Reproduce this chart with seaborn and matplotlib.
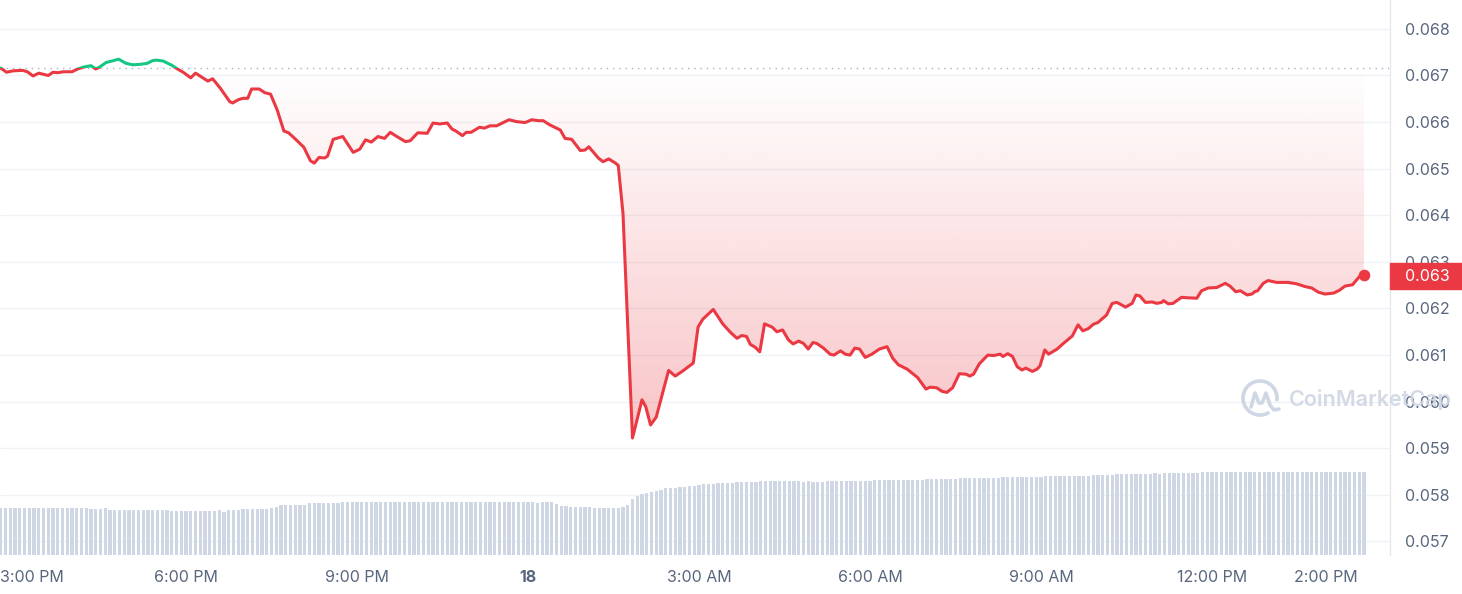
import numpy as np
import pandas as pd
import matplotlib
matplotlib.use('Agg')
import matplotlib.pyplot as plt
import matplotlib.dates as mdates
import matplotlib.colors as mcolors
import matplotlib.transforms as mtransforms
from matplotlib.patches import Rectangle, Arc
from matplotlib.path import Path
import seaborn as sns

start = pd.Timestamp('2023-08-17 14:45')

# price samples: minutes after start, USD
price_minutes = [
    0, 6, 13, 23, 28, 34, 40, 50, 55, 60,
    66, 75, 81, 87, 95, 100, 104, 111, 117, 124,
    132, 139, 147, 154, 160, 164, 171, 180, 186, 192,
    200, 205, 212, 218, 223, 231, 241, 244, 250, 255,
    260, 264, 272, 278, 284, 291, 298, 303, 312, 319,
    326, 330, 335, 341, 344, 350, 360,
    371, 378, 384, 390, 397, 404, 410, 417, 426, 431,
    439, 449, 455, 462, 470, 475, 479, 486, 490, 495,
    504, 509, 515, 522, 529, 535, 543, 552, 559, 566,
    571, 578, 589, 594, 601, 610, 615, 619, 629, 634,
    640, 647, 650, 655, 665, 675, 679, 684, 690, 703,
    710, 718, 729, 734, 739, 750, 760, 768, 775, 780,
    785, 789, 794, 799, 804, 812, 817, 823, 829, 834,
    840, 845, 850, 855, 859, 866, 873, 877, 884, 889,
    894, 899, 904, 910, 917, 925, 933, 939, 945, 954,
    965, 974, 978, 985, 991, 996, 1002, 1009, 1016, 1020,
    1024, 1030, 1039, 1045, 1052, 1055, 1060, 1065, 1070, 1075,
    1079, 1086, 1091, 1094, 1099, 1103, 1112, 1118, 1128, 1134,
    1139, 1145, 1150, 1155, 1164, 1170, 1175, 1184, 1191, 1195,
    1199, 1205, 1212, 1217, 1222, 1224, 1229, 1234, 1243, 1249,
    1259, 1264, 1271, 1280, 1289, 1294, 1300, 1305, 1312, 1317,
    1320, 1323, 1329, 1334, 1343, 1355, 1364, 1373, 1380, 1387,
    1394, 1403, 1409, 1415, 1423, 1430, 1435,
]
price_values = [
    0.06716, 0.06707, 0.06710, 0.06711, 0.06708, 0.06699, 0.06705, 0.06700, 0.06707, 0.06706,
    0.06708, 0.06708, 0.06714, 0.06718, 0.06721, 0.06714, 0.06718, 0.06728, 0.06731, 0.06735,
    0.06726, 0.06723, 0.06724, 0.06726, 0.06732, 0.06733, 0.06731, 0.06722, 0.06714, 0.06707,
    0.06695, 0.06705, 0.06696, 0.06688, 0.06693, 0.06673, 0.06644, 0.06641, 0.06648, 0.06651,
    0.06651, 0.06671, 0.06671, 0.06663, 0.06660, 0.06626, 0.06581, 0.06577, 0.06560, 0.06546,
    0.06517, 0.06512, 0.06524, 0.06523, 0.06527, 0.06563, 0.06569,
    0.06535, 0.06542, 0.06562, 0.06557, 0.06569, 0.06565, 0.06578, 0.06569, 0.06558, 0.06560,
    0.06577, 0.06576, 0.06598, 0.06596, 0.06598, 0.06585, 0.06581, 0.06571, 0.06578, 0.06578,
    0.06589, 0.06587, 0.06592, 0.06592, 0.06599, 0.06605, 0.06601, 0.06599, 0.06605, 0.06603,
    0.06603, 0.06594, 0.06583, 0.06565, 0.06563, 0.06539, 0.06540, 0.06547, 0.06523, 0.06515,
    0.06521, 0.06512, 0.06507, 0.06404, 0.05922, 0.06004, 0.05989, 0.05950, 0.05967, 0.06067,
    0.06055, 0.06066, 0.06083, 0.06160, 0.06177, 0.06198, 0.06167, 0.06149, 0.06136, 0.06142,
    0.06140, 0.06123, 0.06117, 0.06107, 0.06167, 0.06160, 0.06150, 0.06154, 0.06133, 0.06124,
    0.06130, 0.06125, 0.06113, 0.06127, 0.06125, 0.06115, 0.06102, 0.06100, 0.06109, 0.06102,
    0.06100, 0.06115, 0.06113, 0.06095, 0.06102, 0.06113, 0.06118, 0.06093, 0.06079, 0.06070,
    0.06052, 0.06027, 0.06031, 0.06030, 0.06022, 0.06020, 0.06030, 0.06060, 0.06059, 0.06055,
    0.06059, 0.06081, 0.06100, 0.06099, 0.06102, 0.06097, 0.06103, 0.06097, 0.06075, 0.06068,
    0.06072, 0.06065, 0.06070, 0.06077, 0.06111, 0.06102, 0.06113, 0.06124, 0.06141, 0.06165,
    0.06152, 0.06157, 0.06166, 0.06170, 0.06186, 0.06211, 0.06213, 0.06203, 0.06211, 0.06229,
    0.06227, 0.06213, 0.06214, 0.06211, 0.06213, 0.06217, 0.06210, 0.06211, 0.06224, 0.06223,
    0.06222, 0.06238, 0.06244, 0.06245, 0.06254, 0.06248, 0.06236, 0.06238, 0.06229, 0.06231,
    0.06236, 0.06238, 0.06254, 0.06260, 0.06256, 0.06256, 0.06253, 0.06247, 0.06244, 0.06235,
    0.06231, 0.06233, 0.06239, 0.06248, 0.06251, 0.06268, 0.06272,
]

# volume, one bar per 5 minutes (arbitrary units)
volume_values = (
    [47] * 19 + [46] * 3 + [46.5] + [45] * 13 + [44] * 10 + [45, 43] + [45] * 3 + [46] * 6
    + [47, 48] + [50] * 6 + [52] * 7 + [53] * 41 + [52] + [53] * 3 + [51] + [49] * 2 + [48] * 5
    + [47] * 6
    + [48, 50, 56, 59, 61, 62, 63, 64, 65, 67, 67, 67, 68, 68, 69, 69, 70, 71, 71, 71, 72, 72, 72, 72]
    + [73] * 5 + [74] * 9 + [73, 74] + [73] * 3 + [74] * 10 + [75] * 11 + [76] * 7 + [77] * 9
    + [78] * 9 + [79] * 10 + [80] * 5 + [81] * 8 + [82, 81] + [82] * 8 + [83] * 35
)

x_tick_times = ['2023-08-17 15:00', '2023-08-17 18:00', '2023-08-17 21:00', '2023-08-18 00:00',
                '2023-08-18 03:00', '2023-08-18 06:00', '2023-08-18 09:00', '2023-08-18 12:00',
                '2023-08-18 14:00']
x_tick_labels = ['3:00 PM', '6:00 PM', '9:00 PM', '18', '3:00 AM', '6:00 AM', '9:00 AM',
                 '12:00 PM', '2:00 PM']
y_ticks = [0.057, 0.058, 0.059, 0.060, 0.061, 0.062, 0.063, 0.064, 0.065, 0.066, 0.067, 0.068]

RED = '#ea3943'
GREEN = '#16c784'
TXT = '#58667e'
VOL = '#cfd6e4'
GRID = '#eff2f5'

sns.set_style('white')
plt.rcParams['font.family'] = ['Inter', 'DejaVu Sans']

df = pd.DataFrame({
    'time': mdates.date2num(start + pd.to_timedelta(price_minutes, unit='m')),
    'price': price_values,
})
vol = pd.DataFrame({
    'time': mdates.date2num(start + pd.to_timedelta(np.arange(len(volume_values)) * 5, unit='m')),
    'volume': volume_values,
})

y_lo, y_hi = 0.05671, 0.06862
x_lo = mdates.date2num(start - pd.Timedelta(minutes=0.8))
x_hi = mdates.date2num(start + pd.Timedelta(minutes=1462.4))
base = price_values[0]
last_t, last_p = df['time'].iloc[-1], df['price'].iloc[-1]

W, H = 1462, 594
fig = plt.figure(figsize=(W / 100, H / 100), dpi=100, facecolor='white')
ax = fig.add_axes([0, 39 / H, 1390 / W, 555 / H])
ax.set_facecolor('white')

# grid
for yv in y_ticks:
    ax.axhline(yv, color=GRID, lw=1, zorder=0.5)

# volume bars at the bottom (scaled into the price axis)
heights = vol['volume'] / vol['volume'].max() * 0.15 * (y_hi - y_lo)
ax.bar(vol['time'], heights, bottom=y_lo, width=3.5 / 1440, color=VOL, lw=0, zorder=1)

# gradient fill below the opening price
poly = ax.fill_between(df['time'], df['price'], base, where=df['price'] < base,
                       interpolate=True, color='none', lw=0)
clip = Path.make_compound_path(*poly.get_paths())
grad = np.zeros((256, 1, 4))
grad[..., :3] = mcolors.to_rgb(RED)
grad[..., 3] = np.linspace(0.3, 0.0, 256)[:, None]
im = ax.imshow(grad, extent=[df['time'].iloc[0], last_t, df['price'].min(), base],
               origin='lower', aspect='auto', interpolation='bilinear', zorder=1.5)
im.set_clip_path(clip, ax.transData)

ax.axhline(base, color='#a6b0c3', lw=1, ls=(0, (1, 3.5)), zorder=1.8)

# price line, green above the open, red below
sns.lineplot(data=df, x='time', y='price', ax=ax, color=RED, lw=2.2, estimator=None, sort=False)
red_line = ax.lines[-1]
sns.lineplot(data=df, x='time', y='price', ax=ax, color=GREEN, lw=2.2, estimator=None, sort=False)
green_line = ax.lines[-1]
for ln in (red_line, green_line):
    ln.set_solid_joinstyle('round')
    ln.set_solid_capstyle('round')
    ln.set_zorder(3)
red_line.set_clip_path(Rectangle((x_lo, y_lo), x_hi - x_lo, base - y_lo, transform=ax.transData))
green_line.set_clip_path(Rectangle((x_lo, base), x_hi - x_lo, y_hi - base, transform=ax.transData))

ax.scatter([last_t], [last_p], s=70, color=RED, zorder=4, clip_on=False, lw=0)

ax.set_xlim(x_lo, x_hi)
ax.set_ylim(y_lo, y_hi)
ax.set_xlabel('')
ax.set_ylabel('')

# axes styling
for s in ['top', 'left', 'bottom']:
    ax.spines[s].set_visible(False)
ax.spines['right'].set_color('#e6e9ee')
ax.spines['right'].set_linewidth(1)

ax.yaxis.tick_right()
ax.set_yticks(y_ticks, [f'{v:.3f}' for v in y_ticks])
ax.tick_params(axis='y', length=0, pad=11, labelsize=11.5, labelcolor=TXT)

ax.set_xticks(mdates.date2num(pd.to_datetime(x_tick_times)), x_tick_labels)
ax.tick_params(axis='x', length=3, width=1, color='#dfe3ea', pad=8, labelsize=11.5, labelcolor=TXT)
labels = ax.get_xticklabels()
labels[3].set_fontweight('bold')
labels[0].set_horizontalalignment('left')
labels[0].set_transform(labels[0].get_transform()
                        + mtransforms.ScaledTranslation(-15 / 100, 0, fig.dpi_scale_trans))

# current price tag on the axis
trans = mtransforms.blended_transform_factory(ax.transAxes, ax.transData)
box_h = 26 / 555 * (y_hi - y_lo)
ax.add_patch(Rectangle((1.0, last_p - box_h / 2 - 0.00003), 72 / 1390, box_h, transform=trans,
                       color=RED, clip_on=False, zorder=5))
ax.text(1.0 + 15 / 1390, last_p - 0.00003, f'{last_p:.3f}', transform=trans, color='white',
        va='center', ha='left', fontsize=11.5, zorder=6, clip_on=False)

# watermark
def fpos(x, y):
    return (x / W, 1 - y / H)

fig.text(*fpos(1289, 399), 'CoinMarketCap', color=VOL, fontsize=15.5, fontweight='semibold',
         va='center', ha='left', alpha=0.9)
fig.add_artist(Arc(fpos(1260, 398), 34 / W, 34 / H, theta1=-25, theta2=285,
                   transform=fig.transFigure, color=VOL, lw=2.6))
mx = [1251, 1255, 1259, 1262, 1266, 1270, 1274, 1279]
my = [407, 393, 403, 403, 393, 405, 410, 409]
fig.add_artist(plt.Line2D([x / W for x in mx], [1 - y / H for y in my], transform=fig.transFigure,
                          color=VOL, lw=2.6, solid_capstyle='round', solid_joinstyle='round'))

fig.savefig('out.png', dpi=100, facecolor='white')
